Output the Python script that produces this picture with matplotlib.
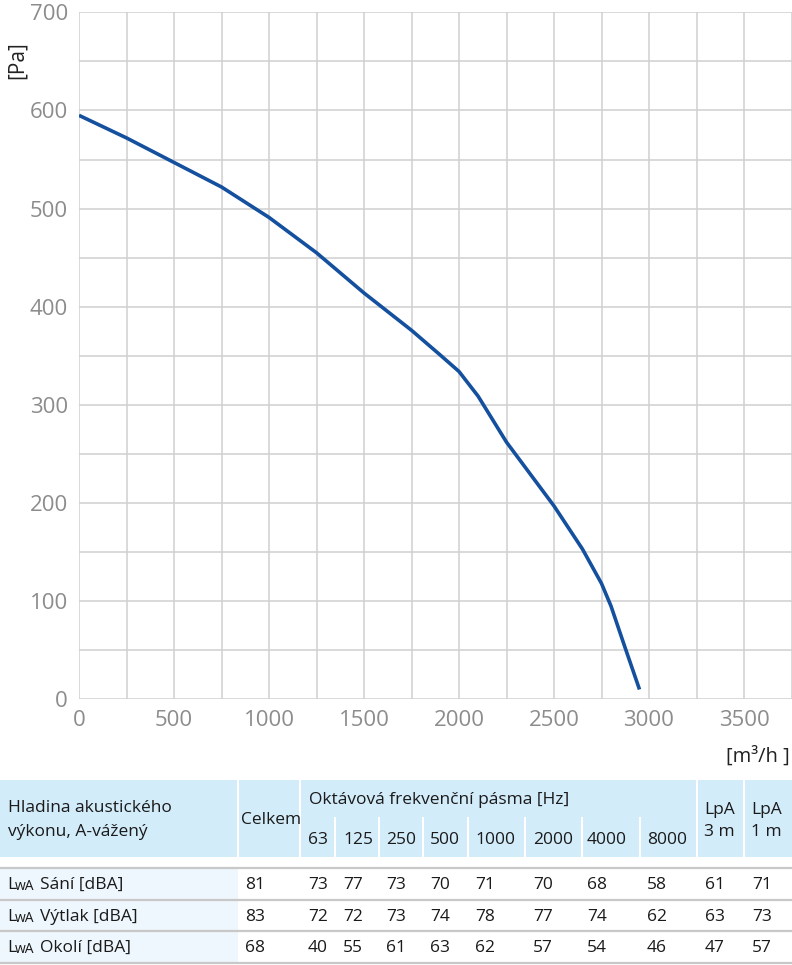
import matplotlib
matplotlib.use("Agg")
from matplotlib import pyplot as plt
from matplotlib.patches import Rectangle
import numpy as np

plt.rcParams['font.family'] = ['Open Sans', 'DejaVu Sans']

# fan curve
flow = [0, 250, 500, 750, 1000, 1250, 1500, 1750, 1900, 2000, 2100, 2250, 2500, 2650, 2750, 2800, 2870, 2950]
pressure = [595, 572, 547, 522, 491, 455, 414, 376, 351, 334, 309, 262, 197, 153, 118, 95, 55, 10]

x_ticks = [0, 500, 1000, 1500, 2000, 2500, 3000, 3500]
y_ticks = [0, 100, 200, 300, 400, 500, 600, 700]

# acoustic table
row_names = ['Sání [dBA]', 'Výtlak [dBA]', 'Okolí [dBA]']
total = [81, 83, 68]
bands = ['63', '125', '250', '500', '1000', '2000', '4000', '8000']
band_values = [[73, 77, 73, 70, 71, 70, 68, 58],
               [72, 72, 73, 74, 78, 77, 74, 62],
               [40, 55, 61, 63, 62, 57, 54, 46]]
lpa_3m = [61, 63, 47]
lpa_1m = [71, 73, 57]

W, H = 792, 965
fig = plt.figure(figsize=(W / 100, H / 100), dpi=100)


def fx(x):
    return x / W


def fy(y):
    return 1 - y / H


def txt(x, y, s, size=12.5, color='#1a1a1a', **kw):
    fig.text(fx(x), fy(y), s, fontsize=size, color=color, va='center', ha='left', **kw)


# ---- chart ----
ax = fig.add_axes([fx(79), fy(699.3), fx(791.5) - fx(79), (699.3 - 12.3) / H])
ax.plot(flow, pressure, color='#14509e', lw=2.6, solid_capstyle='butt', solid_joinstyle='round')
ax.set_xlim(0, 3750)
ax.set_ylim(0, 700)
ax.set_xticks(np.arange(0, 3751, 250), minor=True)
ax.set_yticks(np.arange(0, 701, 50), minor=True)
ax.set_xticks(x_ticks)
ax.set_yticks(y_ticks)
ax.grid(True, which='both', color='#d0d0d0', lw=1.1)
ax.set_axisbelow(True)
for s in ax.spines.values():
    s.set_visible(False)
ax.tick_params(which='both', length=0, labelsize=16, labelcolor='#8c8c8c')
ax.tick_params(axis='x', pad=8)
ax.tick_params(axis='y', pad=8)
ax.set_xticklabels([str(v) for v in x_ticks])
ax.set_yticklabels([str(v) for v in y_ticks])

fig.text(fx(17), fy(60), '[Pa]', rotation=90, fontsize=15, color='#222222', ha='center', va='center')
fig.text(fx(790), fy(757), '[m³/h ]', fontsize=14.5, color='#222222', ha='right', va='center')

# ---- table ----
head_bg = '#d3ecfa'
fig.patches.append(Rectangle((fx(0), fy(857)), 1, (857 - 780) / H, transform=fig.transFigure,
                             facecolor=head_bg, edgecolor='none'))
for x in [238, 300, 697, 744]:
    fig.lines.append(plt.Line2D([fx(x), fx(x)], [fy(780), fy(857)], transform=fig.transFigure,
                                color='white', lw=1.5))
band_edges = [335, 379, 423, 468, 525, 582, 640]
for x in band_edges:
    fig.lines.append(plt.Line2D([fx(x), fx(x)], [fy(818), fy(857)], transform=fig.transFigure,
                                color='white', lw=1.5))

row_lines = [868, 900, 931, 963]
fig.patches.append(Rectangle((fx(0), fy(963)), fx(238), (963 - 868) / H, transform=fig.transFigure,
                             facecolor='#eef7fd', edgecolor='none'))
for y in row_lines:
    fig.lines.append(plt.Line2D([0, 1], [fy(y), fy(y)], transform=fig.transFigure,
                                color='#c8c8c8', lw=1.6))

txt(8, 808, 'Hladina akustického')
txt(8, 832, 'výkonu, A-vážený')
txt(241, 820, 'Celkem')
txt(309, 800, 'Oktávová frekvenční pásma [Hz]')
band_x = [308, 343, 386, 430, 475, 533, 587, 647]
for x, b in zip(band_x, bands):
    txt(x, 840, b)
txt(704, 810, 'LpA')
txt(704, 832, '3 m')
txt(751, 810, 'LpA')
txt(751, 832, '1 m')

row_y = [885, 917, 948]
for i, y in enumerate(row_y):
    txt(7, y, 'L')
    txt(15, y + 1.5, 'wA', size=10)
    txt(40, y, row_names[i])
    txt(245, y, str(total[i]))
    for x, v in zip(band_x, band_values[i]):
        txt(x, y, str(v))
    txt(705, y, str(lpa_3m[i]))
    txt(752, y, str(lpa_1m[i]))

fig.savefig('out.png', dpi=100)
